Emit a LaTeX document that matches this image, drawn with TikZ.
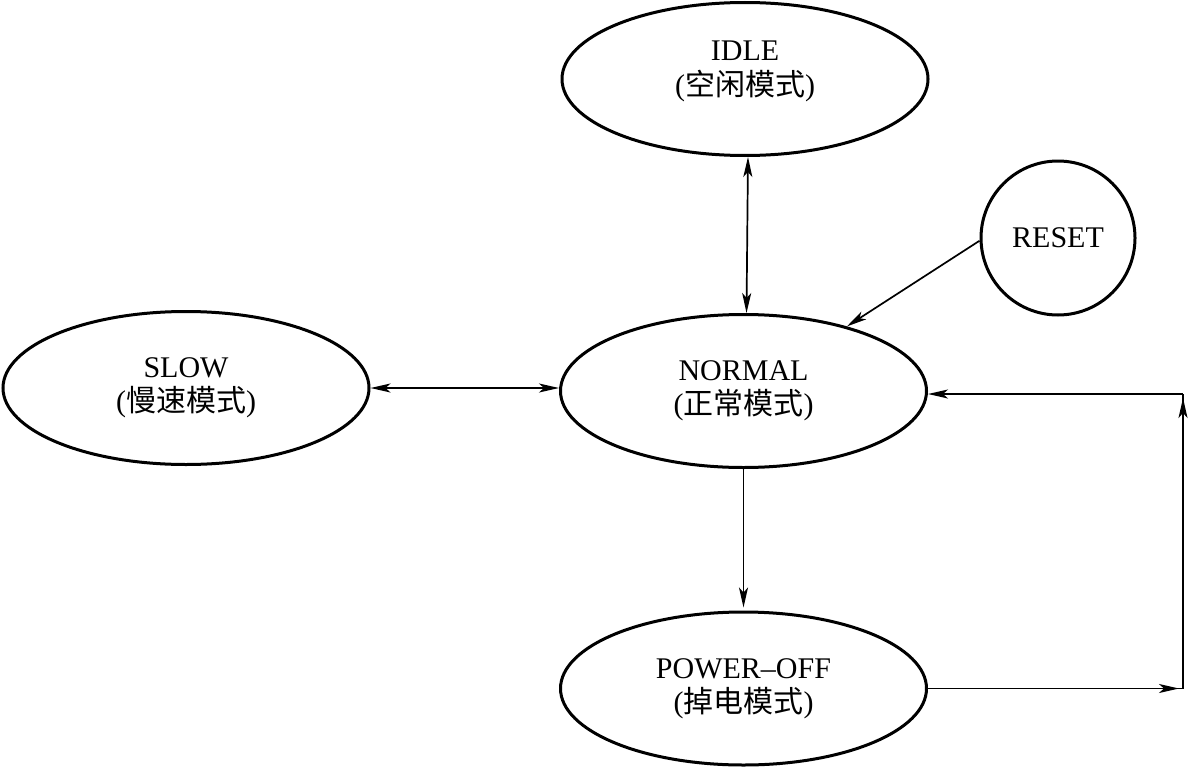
\documentclass[tikz,border=0pt]{standalone}
\usepackage{fontspec}
\setmainfont{Liberation Serif}
\newfontfamily\cjk{Noto Sans CJK SC}
\usetikzlibrary{arrows.meta,shapes.geometric,calc}
\begin{document}
\begin{tikzpicture}[x=1pt,y=-1pt,
  state/.style={ellipse,draw,line width=3pt,minimum width=366pt,minimum height=153pt,
    inner sep=0pt,align=center,font=\fontsize{30}{34}\selectfont},
  circstate/.style={circle,draw,line width=3pt,minimum size=154pt,inner sep=0pt,
    font=\fontsize{30}{34}\selectfont},
  conn/.style={line width=1.7pt},
  tip/.style={-{Stealth[length=20pt,width=9pt,inset=5pt]}},
  dbl/.style={{Stealth[length=20pt,width=9pt,inset=5pt]}-{Stealth[length=20pt,width=9pt,inset=5pt]}}
]
\useasboundingbox (0,0) rectangle (1188,768);

\node[state] (IDLE) at (745,79) {\raisebox{8pt}[\height][\depth]{\begin{tabular}{@{}c@{}}IDLE\\({\cjk 空闲模式})\end{tabular}}};
\node[state] (NORMAL) at (743.5,391) {NORMAL\\({\cjk 正常模式})};
\node[state] (SLOW) at (186,388) {SLOW\\({\cjk 慢速模式})};
\node[state] (POWER) at (743.5,688.5) {POWER–OFF\\({\cjk 掉电模式})};
\node[circstate] (RESET) at (1058,238) {RESET};

\coordinate (c1) at (1183,688.5);
\coordinate (c2) at (1183,394);

\draw[conn,dbl] ([xshift=3pt]IDLE.south) -- ([xshift=3pt]NORMAL.north);
\draw[conn,dbl] (SLOW.east) -- (SLOW.east -| NORMAL.west);
\draw[conn,tip] (RESET.182) -- (NORMAL.32);
\draw[conn,tip,shorten >=3pt] (NORMAL.south) -- (POWER.north);

\draw[conn] (POWER.east) -- (c1) -- (c2);
\draw[conn,tip] (POWER.east) -- ([xshift=-4pt]c1);
\draw[conn,tip] (c1) -- ([yshift=-4pt]c2);
\draw[conn,tip] (c2) -- (c2 -| NORMAL.east);
\end{tikzpicture}
\end{document}
